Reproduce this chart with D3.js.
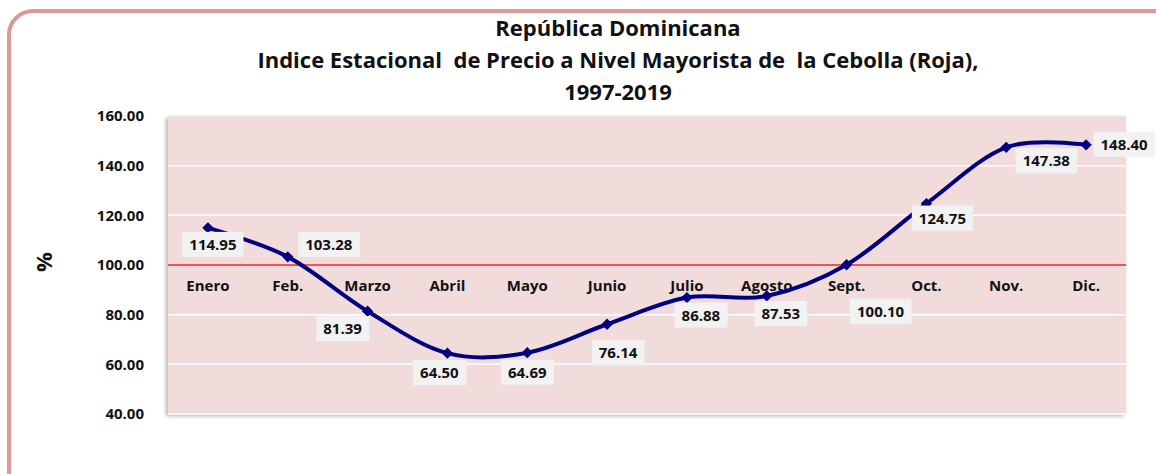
<!DOCTYPE html>
<html><head><meta charset="utf-8">
<script src="https://cdn.jsdelivr.net/npm/d3@7"></script>
<style>
html,body{margin:0;padding:0;background:#fff;}
svg{display:block;font-family:"Open Sans","Lato",sans-serif;}
</style></head>
<body>
<svg id="c" width="1156" height="474"></svg>
<script>
const months = ["Enero","Feb.","Marzo","Abril","Mayo","Junio","Julio","Agosto","Sept.","Oct.","Nov.","Dic."];
const values = [114.95,103.28,81.39,64.50,64.69,76.14,86.88,87.53,100.10,124.75,147.38,148.40];
const yTicks = [40,60,80,100,120,140,160];
const titleLines = ["República Dominicana","Indice Estacional  de Precio a Nivel Mayorista de  la Cebolla (Roja),","1997-2019"];
// label offsets (px) relative to point
const labelDx = [5,41,-25,-8,0,11,14,14,34,16,40,38];
const labelDy = [16,-13,17,19,19,28,17,17,46,14,13,-1];

const svg = d3.select("#c");
const FONT = "'Open Sans', Lato, sans-serif";
const m = {l:168, r:1126, t:116, b:414};

// outer border
svg.append("rect").attr("x",9).attr("y",11).attr("width",1170).attr("height",490)
  .attr("rx",24).attr("fill","#fff").attr("stroke","#dc9896").attr("stroke-width",4);

// title
const tg = svg.append("g");
titleLines.forEach((t,i)=>{
  tg.append("text").attr("x",618).attr("y",36+i*32).attr("text-anchor","middle")
    .style("white-space","pre").attr("font-size",22).attr("font-weight","bold")
    .attr("fill","#111").text(t);
});

const x = d3.scaleBand().domain(months).range([m.l,m.r]);
const y = d3.scaleLinear().domain([40,160]).range([m.b,m.t]);

// shadow
const defs = svg.append("defs");
const f = defs.append("filter").attr("id","sh").attr("x","-5%").attr("y","-5%").attr("width","110%").attr("height","115%");
f.append("feDropShadow").attr("dx",-2).attr("dy",2).attr("stdDeviation",2).attr("flood-color","#000").attr("flood-opacity",0.3);

svg.append("rect").attr("x",m.l).attr("y",m.t).attr("width",m.r-m.l).attr("height",m.b-m.t)
  .attr("fill","#f2dcdb").attr("filter","url(#sh)");

// gridlines
svg.append("g").selectAll("line").data(yTicks.filter(d=>d!==100 && d!==160)).join("line")
  .attr("x1",m.l).attr("x2",m.r).attr("y1",d=>y(d)).attr("y2",d=>y(d))
  .attr("stroke","#fff").attr("stroke-width",1.5);
svg.append("line").attr("x1",m.l).attr("x2",m.r).attr("y1",y(100)).attr("y2",y(100))
  .attr("stroke","#ff2020").attr("stroke-width",1.5);

// y axis
const ya = svg.append("g").attr("transform",`translate(${m.l-21},0)`)
  .call(d3.axisLeft(y).tickValues(yTicks).tickFormat(d3.format(".2f")).tickSize(0));
ya.select(".domain").remove();
ya.selectAll("text").attr("font-size",15).attr("font-weight","bold").attr("fill","#111")
  .attr("font-family",FONT);

// x axis at 100
const xa = svg.append("g").attr("transform",`translate(0,${y(100)+12})`)
  .call(d3.axisBottom(x).tickSize(0));
xa.select(".domain").remove();
xa.selectAll("text").attr("font-size",15).attr("font-weight","bold").attr("fill","#111")
  .attr("font-family",FONT);

svg.append("text").attr("transform",`translate(52,262) rotate(-90)`).attr("text-anchor","middle")
  .attr("font-size",22).attr("font-weight","bold").attr("fill","#111").text("%");

// line
const cx = d=>x(d)+x.bandwidth()/2;
const pts = months.map((mo,i)=>[cx(mo), y(values[i])]);
svg.append("path").datum(pts).attr("d",d3.line().curve(d3.curveCardinal.tension(0)))
  .attr("fill","none").attr("stroke","#000080").attr("stroke-width",4);

svg.append("g").selectAll("path").data(pts).join("path")
  .attr("transform",d=>`translate(${d[0]},${d[1]}) rotate(45)`)
  .attr("d",d3.symbol(d3.symbolSquare,64)).attr("fill","#000080");

// data labels
const lg = svg.append("g");
values.forEach((v,i)=>{
  const px = pts[i][0]+labelDx[i], py = pts[i][1]+labelDy[i];
  const g = lg.append("g");
  const t = g.append("text").attr("x",px).attr("y",py).attr("text-anchor","middle")
    .attr("dominant-baseline","central").attr("font-size",15).attr("font-weight","bold")
    .attr("fill","#111").text(d3.format(".2f")(v));
  const bb = t.node().getBBox();
  g.insert("rect","text").attr("x",bb.x-7).attr("y",py-12).attr("width",bb.width+14).attr("height",25)
    .attr("fill","#f2f2f2");
});
</script>
</body></html>
